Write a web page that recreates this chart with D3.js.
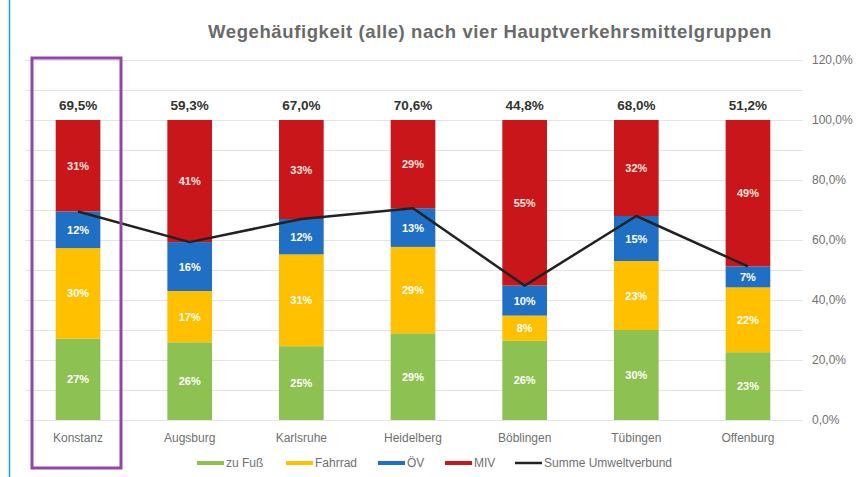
<!DOCTYPE html>
<html>
<head>
<meta charset="utf-8">
<script src="https://cdn.jsdelivr.net/npm/d3@7"></script>
<style>
  body { margin: 0; background: #fff; }
  svg { display: block; font-family: "Liberation Sans", Arial, sans-serif; }
</style>
</head>
<body>
<svg width="858" height="477"></svg>
<script>
// data
const cities = ["Konstanz", "Augsburg", "Karlsruhe", "Heidelberg", "Böblingen", "Tübingen", "Offenburg"];
const zuFuss  = [27.1, 25.9, 24.6, 28.9, 26.4, 30.0, 22.6];
const fahrrad = [30.2, 17.1, 30.6, 28.8, 8.4, 23.0, 21.6];
const oev     = [12.2, 16.3, 11.8, 12.9, 10.0, 15.0, 7.0];
const miv     = [30.5, 40.7, 33.0, 29.4, 55.2, 32.0, 48.8];
const umwelt  = [69.5, 59.3, 67.0, 70.6, 44.8, 68.0, 51.2];
const yTicks  = [0, 20, 40, 60, 80, 100, 120];

const seriesNames = ["zu Fuß", "Fahrrad", "ÖV", "MIV"];
const seriesColors = ["#8dc152", "#ffc000", "#1f6fc4", "#c8161a"];

const rows = cities.map((c, i) => ({
  city: c, "zu Fuß": zuFuss[i], "Fahrrad": fahrrad[i], "ÖV": oev[i], "MIV": miv[i], umwelt: umwelt[i]
}));

const svg = d3.select("svg");

// blue left border
svg.append("line")
  .attr("x1", 9.5).attr("x2", 9.5).attr("y1", 0).attr("y2", 477)
  .attr("stroke", "#1ea0dc").attr("stroke-width", 1.5);

const x = d3.scaleBand().domain(cities).range([25, 801]).paddingInner(0.6).paddingOuter(0.275);
const y = d3.scaleLinear().domain([0, 120]).range([420, 60]);

// gridlines every 10%
svg.append("g").selectAll("line")
  .data(d3.range(0, 121, 10))
  .enter().append("line")
  .attr("x1", 25).attr("x2", 803)
  .attr("y1", d => y(d) + 0.5).attr("y2", d => y(d) + 0.5)
  .attr("stroke", "#e4e4e4").attr("stroke-width", 1);

// right axis labels
svg.append("g").selectAll("text")
  .data(yTicks)
  .enter().append("text")
  .attr("x", 812).attr("y", d => y(d) + 4)
  .attr("font-size", 12).attr("fill", "#707070")
  .text(d => d.toFixed(1).replace(".", ",") + "%");

// title
svg.append("text")
  .attr("x", 490).attr("y", 38)
  .attr("text-anchor", "middle")
  .attr("font-size", 18.5).attr("font-weight", "bold").attr("fill", "#6a6a6a")
  .attr("letter-spacing", 0.6)
  .text("Wegehäufigkeit (alle) nach vier Hauptverkehrsmittelgruppen");

// stacked bars
const stack = d3.stack().keys(seriesNames);
const layers = stack(rows);

const layer = svg.append("g").selectAll("g")
  .data(layers)
  .enter().append("g")
  .attr("fill", (d, i) => seriesColors[i]);

layer.selectAll("rect")
  .data(d => d)
  .enter().append("rect")
  .attr("x", d => x(d.data.city))
  .attr("width", x.bandwidth())
  .attr("y", d => y(d[1]))
  .attr("height", d => y(d[0]) - y(d[1]));

layer.selectAll("text")
  .data(d => d)
  .enter().append("text")
  .attr("x", d => x(d.data.city) + x.bandwidth() / 2)
  .attr("y", d => (y(d[0]) + y(d[1])) / 2 + 4)
  .attr("text-anchor", "middle")
  .attr("font-size", 11).attr("font-weight", "bold")
  .attr("fill", (d, i, n) => d3.select(n[i].parentNode).datum().key === "MIV" ? "#fde4dc" : "#ffffff")
  .text(d => Math.round(d[1] - d[0]) + "%");

// total labels on top
svg.append("g").selectAll("text")
  .data(rows)
  .enter().append("text")
  .attr("x", d => x(d.city) + x.bandwidth() / 2)
  .attr("y", d => y(100) - 10)
  .attr("text-anchor", "middle")
  .attr("font-size", 13.5).attr("font-weight", "bold").attr("fill", "#333")
  .text(d => d.umwelt.toFixed(1).replace(".", ",") + "%");

// Summe Umweltverbund line
const line = d3.line()
  .x(d => x(d.city) + x.bandwidth() / 2)
  .y(d => y(d.umwelt));

svg.append("path")
  .datum(rows)
  .attr("d", line)
  .attr("fill", "none")
  .attr("stroke", "#222")
  .attr("stroke-width", 2.5)
  .attr("stroke-linejoin", "round");

// category labels
svg.append("g").selectAll("text")
  .data(cities)
  .enter().append("text")
  .attr("x", d => x(d) + x.bandwidth() / 2)
  .attr("y", 442)
  .attr("text-anchor", "middle")
  .attr("font-size", 12).attr("fill", "#707070")
  .text(d => d);

// legend
const legendItems = seriesNames.map((n, i) => ({ name: n, color: seriesColors[i] }))
  .concat([{ name: "Summe Umweltverbund", color: "#222" }]);
const legendX = [197, 286, 378, 445, 515];

const lg = svg.append("g").selectAll("g")
  .data(legendItems)
  .enter().append("g")
  .attr("transform", (d, i) => "translate(" + legendX[i] + ",463)");

lg.append("line")
  .attr("x1", 0).attr("x2", 27).attr("y1", 0).attr("y2", 0)
  .attr("stroke", d => d.color)
  .attr("stroke-width", (d, i) => i === 4 ? 2.5 : 4);

lg.append("text")
  .attr("x", 29).attr("y", 4)
  .attr("font-size", 12).attr("fill", "#707070")
  .text(d => d.name);

// purple highlight box around Konstanz
svg.append("rect")
  .attr("x", 32).attr("y", 58)
  .attr("width", 89).attr("height", 410)
  .attr("fill", "none")
  .attr("stroke", "#9147a8")
  .attr("stroke-width", 3);
</script>
</body>
</html>
